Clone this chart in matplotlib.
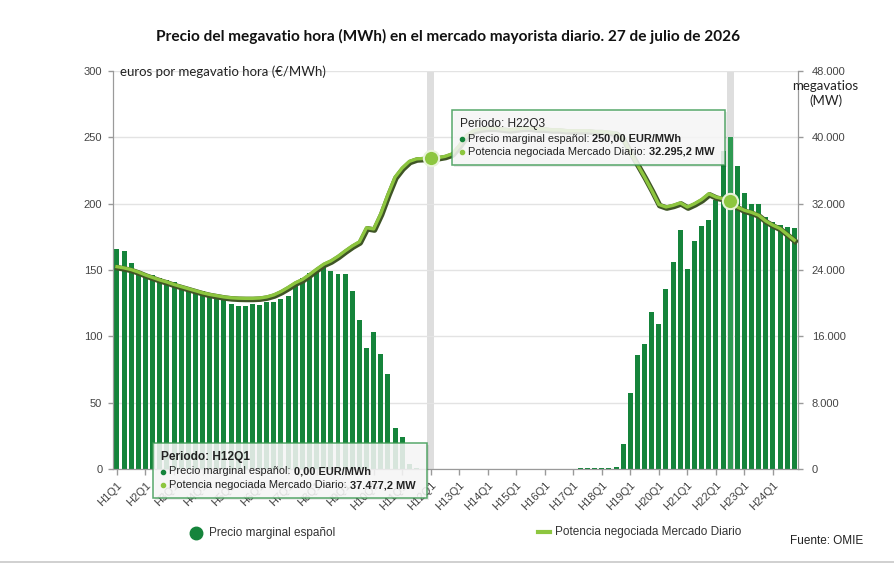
import matplotlib
matplotlib.use("Agg")
import matplotlib.pyplot as plt
import matplotlib.patheffects as pe
from matplotlib.patches import FancyBboxPatch
from matplotlib.lines import Line2D
from matplotlib.ticker import FuncFormatter

# ---------------- data ----------------
periods = [f"H{h}Q{q}" for h in range(1, 25) for q in range(1, 5)]

price = [166, 164, 155, 148, 147, 146, 144, 142.5, 141, 138, 136, 135,
         134, 133, 131, 129, 124.5, 123, 123, 124.5, 123.5, 126, 126, 128.5,
         130.5, 140, 144, 147.5, 151, 152, 149.5, 147, 147, 134, 112, 91.5,
         103, 86.5, 71.5, 31, 24, 4, 1, 0, 0, 0, 0, 0,
         0, 0, 0, 0, 0, 0, 0, 0, 0, 0, 0, 0,
         0, 0, 0, 0, 0, 0.5, 0.5, 0.5, 0.5, 0.5, 1.7, 18.8,
         57, 86, 94.5, 118, 109, 136, 156, 180, 150.5, 172, 183, 188,
         203, 240, 250, 228.6, 208, 199.5, 199.5, 190, 186.4, 184, 182.6, 181.4]

power_mw = [24400, 24250, 24050, 23750, 23400, 23100, 22800, 22550, 22250, 22000, 21750, 21500,
            21250, 21050, 20900, 20750, 20650, 20600, 20580, 20580, 20620, 20750, 21000, 21400,
            21900, 22450, 22850, 23450, 24100, 24700, 25100, 25650, 26300, 26900, 27400, 29100,
            28950, 30800, 33100, 35200, 36300, 37100, 37400, 37450, 37477.2, 37550, 37700, 38000,
            39000, 40200, 40800, 41000, 41100, 41100, 41000, 40900, 41000, 41100, 41100, 41000,
            41000, 40900, 40900, 40800, 40800, 40800, 40800, 40700, 40700, 40600, 40500, 39800,
            38200, 36700, 35200, 33600, 31900, 31600, 31800, 32100, 31600, 32000, 32500, 33200,
            32800, 32600, 32295.2, 31600, 31200, 30950, 30600, 29900, 29400, 29000, 28300, 27600]

hour_labels = [f"H{h}Q1" for h in range(1, 25)]
left_ticks = [0, 50, 100, 150, 200, 250, 300]
right_ticks = [0, 8000, 16000, 24000, 32000, 40000, 48000]

tooltip1 = {"period": "H12Q1", "price": "0,00 EUR/MWh", "power": "37.477,2 MW"}
tooltip2 = {"period": "H22Q3", "price": "250,00 EUR/MWh", "power": "32.295,2 MW"}
hl1 = periods.index("H12Q1")
hl2 = periods.index("H22Q3")

# ---------------- style ----------------
W, H = 895, 567
BAR = "#15843b"
BAR_HL = "#2f9a52"
LINE = "#8dc63f"
SHADOW = "#3f5526"
GRID = "#e3e3e3"
AXC = "#9a9a9a"
TXT = "#444444"
SANS = ["Liberation Sans", "DejaVu Sans"]
HUM = ["Lato", "DejaVu Sans"]

fig = plt.figure(figsize=(W / 100, H / 100), dpi=100)
fig.patch.set_facecolor("white")

def fx(px):
    return px / W

def fy(py):
    return 1 - py / H

ax = fig.add_axes([fx(113.4), fy(469), fx(797.9) - fx(113.4), fy(71) - fy(469)])
ax2 = ax.twinx()

x = list(range(len(periods)))
colors = [BAR] * len(periods)
colors[hl1] = BAR_HL
colors[hl2] = BAR_HL

ax.axvspan(hl1 - 0.5, hl1 + 0.5, color="#dedede", zorder=0.5, lw=0)
ax.axvspan(hl2 - 0.5, hl2 + 0.5, color="#dedede", zorder=0.5, lw=0)
ax.bar(x, price, width=0.7, color=colors, zorder=2, linewidth=0)

ax.set_xlim(-0.5, len(periods) - 0.5)
ax.set_ylim(0, 300)
ax.set_yticks(left_ticks)
ax.yaxis.grid(True, color=GRID, lw=1, zorder=0)
ax.set_axisbelow(True)
ax.spines["top"].set_visible(False)
ax2.spines["top"].set_visible(False)
for a in (ax, ax2):
    a.spines["left"].set_color(AXC)
    a.spines["right"].set_color(AXC)
    a.spines["bottom"].set_color(AXC)
ax.tick_params(axis="y", colors=AXC, labelcolor=TXT, labelsize=8, length=3.5, width=1, pad=4.5)
for t in ax.get_yticklabels():
    t.set_fontfamily(SANS)

ax.set_xticks(list(range(0, 96, 4)))
ax.set_xticklabels(hour_labels, rotation=45, ha="right", va="top",
                   rotation_mode="anchor", fontsize=8, color=TXT, family=SANS)
ax.tick_params(axis="x", colors=AXC, labelcolor=TXT, length=4, width=1, pad=4)

ax2.plot(x, power_mw, color=LINE, lw=2.4, zorder=4, solid_joinstyle="round",
         path_effects=[pe.Stroke(linewidth=4.0, foreground=SHADOW, offset=(0.6, -0.8)),
                       pe.Normal()])
ax2.plot([hl1, hl2], [power_mw[hl1], power_mw[hl2]], "o", ms=11, mfc=LINE, mec="#e8f3d8",
         mew=1.5, zorder=5)
ax2.set_ylim(0, 48000)
ax2.set_yticks(right_ticks)
ax2.yaxis.set_major_formatter(FuncFormatter(lambda v, p: f"{int(v):,}".replace(",", ".")))
ax2.tick_params(axis="y", colors=AXC, labelcolor=TXT, labelsize=8, length=3.5, width=1, pad=6.5)
for t in ax2.get_yticklabels():
    t.set_fontfamily(SANS)

# axis titles
fig.text(fx(120), fy(72), "euros por megavatio hora (€/MWh)", fontsize=9.5, family=HUM,
         color="#222222", ha="left", va="center")
fig.text(fx(825), fy(86), "megavatios", fontsize=9.5, family=HUM, color="#222222",
         ha="center", va="center")
fig.text(fx(826), fy(101), "(MW)", fontsize=9.5, family=HUM, color="#222222",
         ha="center", va="center")

# title
fig.text(fx(448), fy(36), "Precio del megavatio hora (MWh) en el mercado mayorista diario. 27 de julio de 2026",
         fontsize=11.1, family=HUM, weight="bold", color="#111111", ha="center", va="center")

renderer = fig.canvas.get_renderer()

def rich(xp, yp, parts, size=7.9):
    cur = xp
    for txt, w in parts:
        t = fig.text(fx(cur), fy(yp), txt, fontsize=size, family=SANS, weight=w,
                     color="#222222", ha="left", va="center", zorder=11)
        bb = t.get_window_extent(renderer=renderer)
        cur += bb.width

def tooltip(x0, y0, x1, y1, info, period_bold):
    fig.patches.append(FancyBboxPatch((fx(x0 + 2), fy(y1 + 2)), fx(x1 - x0), fy(y0) - fy(y1),
                                      boxstyle="square,pad=0", transform=fig.transFigure,
                                      fc="#000000", alpha=0.08, lw=0, zorder=9))
    fig.patches.append(FancyBboxPatch((fx(x0), fy(y1)), fx(x1 - x0), fy(y0) - fy(y1),
                                      boxstyle="square,pad=0", transform=fig.transFigure,
                                      fc="#f8f8f8", alpha=0.86, ec="#3c9a52", lw=1.1, zorder=10))
    fig.text(fx(x0 + 8), fy(y0 + 14), f"Periodo: {info['period']}", fontsize=8.6, family=SANS,
             weight="bold" if period_bold else "normal", color="#222222", ha="left",
             va="center", zorder=11)
    fig.lines.append(Line2D([fx(x0 + 10)], [fy(y0 + 28.5)], marker="o", ms=3, color=BAR,
                            transform=fig.transFigure, zorder=11))
    rich(x0 + 16, y0 + 28.5, [("Precio marginal español: ", "normal"), (info["price"], "bold")])
    fig.lines.append(Line2D([fx(x0 + 10)], [fy(y0 + 42)], marker="o", ms=3, color=LINE,
                            transform=fig.transFigure, zorder=11))
    rich(x0 + 16, y0 + 42, [("Potencia negociada Mercado Diario: ", "normal"), (info["power"], "bold")])

tooltip(153, 443, 427, 498, tooltip1, True)
tooltip(452, 110, 725, 165, tooltip2, False)

# legend
fig.lines.append(Line2D([fx(196)], [fy(533)], marker="o", ms=9, color=BAR, lw=0,
                        transform=fig.transFigure))
fig.text(fx(209), fy(533), "Precio marginal español", fontsize=8.5, family=SANS,
         color="#333333", ha="left", va="center")
fig.lines.append(Line2D([fx(538), fx(550)], [fy(532), fy(532)], color=LINE, lw=3,
                        transform=fig.transFigure))
fig.text(fx(555), fy(532), "Potencia negociada Mercado Diario", fontsize=8.5, family=SANS,
         color="#333333", ha="left", va="center")
fig.text(fx(790), fy(541), "Fuente: OMIE", fontsize=8.5, family=SANS,
         color="#222222", ha="left", va="center")

# bottom border
fig.lines.append(Line2D([0, 1], [fy(562), fy(562)], color="#c8c8c8", lw=1.2,
                        transform=fig.transFigure))

fig.savefig("out.png", dpi=100, facecolor="white")
